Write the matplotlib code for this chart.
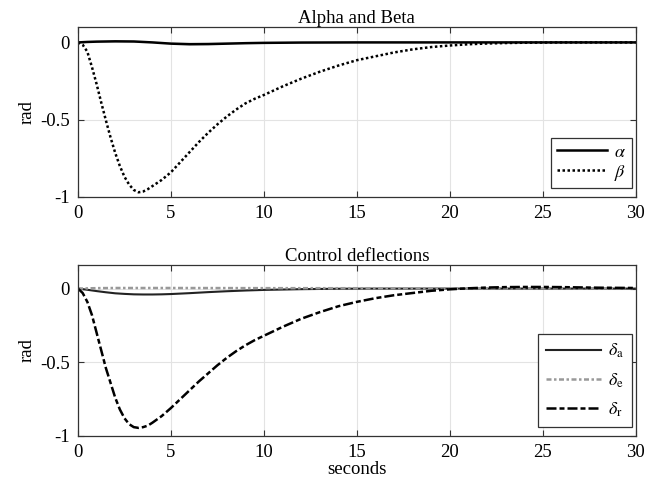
import numpy as np
import matplotlib.pyplot as plt

plt.rcParams['font.family'] = ['Liberation Serif', 'DejaVu Serif']
plt.rcParams['mathtext.fontset'] = 'stix'
plt.rcParams['axes.unicode_minus'] = False

# === Data ===
t_beta = [0, 0.25, 0.5, 0.75, 1, 1.25, 1.5, 1.75, 2, 2.25, 2.5, 2.75, 3, 3.25, 3.5,
          3.75, 4, 4.5, 5, 5.5, 6, 6.5, 7, 7.5, 8, 8.5, 9, 9.5, 10, 11, 12, 13, 14,
          15, 16, 17, 18, 19, 20, 21, 22, 23, 24, 26, 28, 30]
beta = [0, -0.015, -0.06, -0.16, -0.27, -0.39, -0.505, -0.615, -0.715, -0.80, -0.87,
        -0.92, -0.955, -0.97, -0.965, -0.95, -0.93, -0.89, -0.84, -0.775, -0.71,
        -0.645, -0.585, -0.53, -0.48, -0.435, -0.395, -0.365, -0.34, -0.285,
        -0.235, -0.19, -0.15, -0.115, -0.09, -0.065, -0.045, -0.03, -0.02,
        -0.012, -0.007, -0.004, -0.002, 0, 0, 0]

t_alpha = [0, 0.5, 1, 2, 3, 4, 5, 6, 7, 8, 9, 10, 12, 15, 20, 30]
alpha = [0, 0.003, 0.005, 0.007, 0.006, 0.0, -0.008, -0.012, -0.011, -0.008,
         -0.005, -0.003, -0.001, 0, 0, 0]

t_dr = [0, 0.25, 0.5, 0.75, 1, 1.25, 1.5, 1.75, 2, 2.25, 2.5, 2.75, 3, 3.25, 3.5,
        3.75, 4, 4.5, 5, 5.5, 6, 6.5, 7, 7.5, 8, 8.5, 9, 9.5, 10, 11, 12, 13, 14,
        15, 16, 17, 18, 19, 20, 21, 22, 23, 24, 25, 26, 27, 28, 29, 30]
d_r = [0, -0.03, -0.09, -0.18, -0.30, -0.42, -0.54, -0.64, -0.74, -0.82, -0.88,
       -0.92, -0.94, -0.945, -0.94, -0.93, -0.91, -0.865, -0.81, -0.75, -0.69,
       -0.63, -0.575, -0.52, -0.47, -0.425, -0.385, -0.35, -0.32, -0.26,
       -0.205, -0.16, -0.12, -0.09, -0.065, -0.045, -0.03, -0.015, -0.005,
       0.002, 0.007, 0.01, 0.011, 0.011, 0.01, 0.008, 0.006, 0.005, 0.004]

t_da = [0, 0.5, 1, 1.5, 2, 2.5, 3, 3.5, 4, 4.5, 5, 6, 7, 8, 9, 10, 12, 14, 16, 20, 30]
d_a = [0, -0.008, -0.017, -0.025, -0.032, -0.036, -0.039, -0.04, -0.04, -0.039,
       -0.037, -0.031, -0.024, -0.018, -0.013, -0.009, -0.004, -0.001, 0, 0, 0]

t_de = [0, 1, 2, 5, 10, 20, 30]
d_e = [0, 0.003, 0.004, 0.004, 0.003, 0.002, 0.002]

# === Figure ===
fig = plt.figure(figsize=(6.47, 4.78), dpi=100)
ax1 = fig.add_axes([0.1206, 0.588, 0.862, 0.3556])
ax2 = fig.add_axes([0.1206, 0.0879, 0.862, 0.3577])

ax1.plot(t_alpha, alpha, color='black', lw=1.8, label=r'$\alpha$')
ax1.plot(t_beta, beta, color='black', lw=1.8, ls=(0, (1, 1)), label=r'$\beta$')
ax1.set_ylim(-1, 0.1)
ax1.set_title('Alpha and Beta', fontsize=13.5, pad=3)

ax2.plot(t_da, d_a, color='#222222', lw=1.5, label=r'$\delta_{\rm a}$')
ax2.plot(t_de, d_e, color='#999999', lw=1.8, ls=(0, (2, 1, 1, 1)),
         label=r'$\delta_{\rm e}$')
ax2.plot(t_dr, d_r, color='black', lw=1.8, ls=(0, (4, 1.2, 2, 1.2)),
         label=r'$\delta_{\rm r}$')
ax2.set_ylim(-1, 0.16)
ax2.set_title('Control deflections', fontsize=13.5, pad=3)
ax2.set_xlabel('seconds', fontsize=13.5, labelpad=0)

for ax in (ax1, ax2):
    ax.set_xlim(0, 30)
    ax.set_xticks([0, 5, 10, 15, 20, 25, 30])
    ax.set_yticks([-1, -0.5, 0])
    ax.set_yticklabels(['-1', '-0.5', '0'])
    ax.set_ylabel('rad', fontsize=13.5, labelpad=3)
    ax.grid(True, color='#e3e3e3', lw=0.8)
    ax.set_axisbelow(True)
    ax.tick_params(direction='in', top=True, right=True, labelsize=13.5,
                   length=4, width=0.8, color='#333333', pad=6)
    for s in ax.spines.values():
        s.set_color('#333333')
        s.set_linewidth(0.9)

leg1 = ax1.legend(loc='lower right', fontsize=13, fancybox=False,
                  edgecolor='#333333', framealpha=1, handlelength=2.8,
                  labelspacing=0.1, borderpad=0.3, handletextpad=0.4,
                  borderaxespad=0, bbox_to_anchor=(0.993, 0.053))
leg2 = ax2.legend(loc='lower right', fontsize=13, fancybox=False,
                  edgecolor='#333333', framealpha=1, handlelength=3.0,
                  labelspacing=0.6, borderpad=0.45, handletextpad=0.4,
                  borderaxespad=0, bbox_to_anchor=(0.993, 0.053))
for leg in (leg1, leg2):
    leg.get_frame().set_linewidth(0.9)

fig.savefig('out.png', dpi=100)
